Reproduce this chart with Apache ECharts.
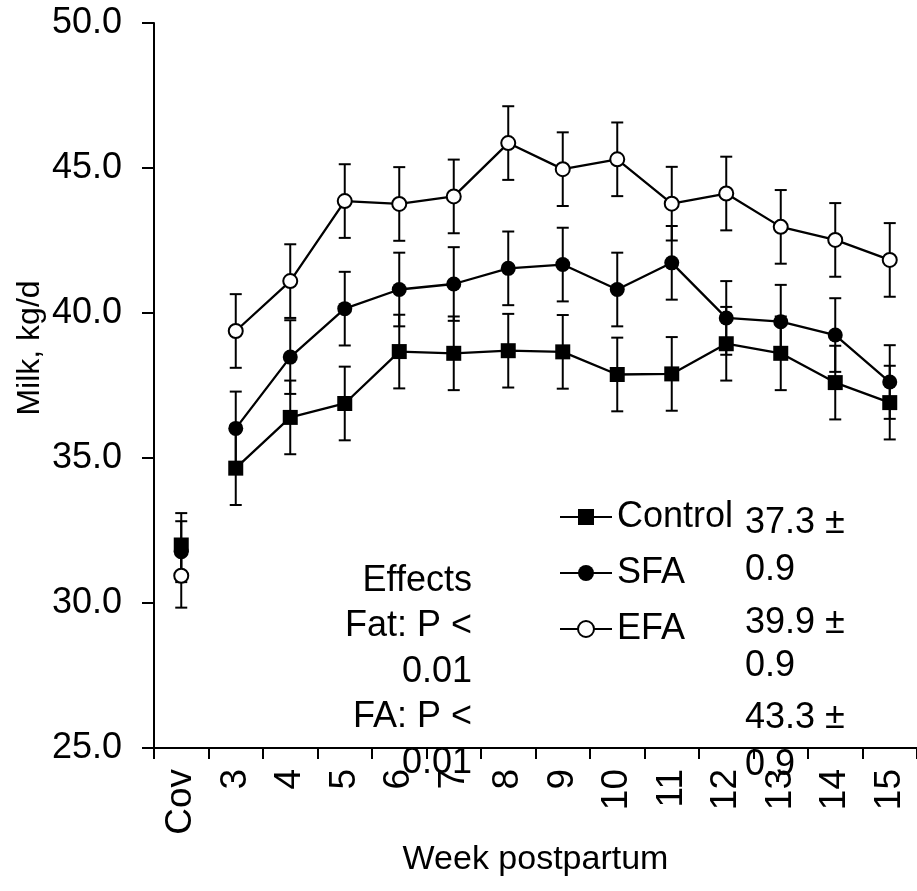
<!DOCTYPE html>
<html><head><meta charset="utf-8">
<script src="https://cdn.jsdelivr.net/npm/echarts@6/dist/echarts.min.js"></script>
<style>html,body{margin:0;padding:0;background:#fff}#c{width:917px;height:891px}</style>
</head><body><div id="c"></div>
<script>
// ---- data ----
const categories = ['Cov','3','4','5','6','7','8','9','10','11','12','13','14','15'];
const seriesNames = ['Control','SFA','EFA'];
const controlCov = 32.00, sfaCov = 31.77, efaCov = 30.94;
const controlWeeks = [34.65,36.40,36.88,38.67,38.61,38.70,38.66,37.88,37.90,38.94,38.61,37.60,36.91];
const sfaWeeks     = [36.02,38.48,40.15,40.81,41.00,41.54,41.67,40.81,41.73,39.83,39.70,39.24,37.62];
const efaWeeks     = [39.38,41.10,43.86,43.76,44.02,45.86,44.96,45.30,43.77,44.12,42.97,42.52,41.83];
const controlSE = [1.10,1.27,1.27,1.27,1.27,1.27,1.27,1.27,1.27,1.27,1.27,1.27,1.27,1.27];
const sfaSE     = [1.05,1.27,1.27,1.27,1.27,1.27,1.27,1.27,1.27,1.27,1.27,1.27,1.27,1.27];
const efaSE     = [1.10,1.27,1.27,1.27,1.27,1.27,1.27,1.27,1.27,1.27,1.27,1.27,1.27,1.27];
const yMin = 25, yMax = 50, yStep = 5;
const xTitle = 'Week postpartum';
const yTitle = 'Milk, kg/d';
const effectsLines = ['Effects','Fat: P <','0.01','FA: P <','0.01'];
const meansLines = ['37.3 \u00b1','0.9','39.9 \u00b1','0.9','43.3 \u00b1','0.9'];

// ---- layout / style ----
const F = '"Liberation Sans", Arial, Helvetica, sans-serif';
const FS = 36;
const grid = {left:154, top:23, width:765, height:725};
const meansMid = [523, 570, 623, 666, 718, 765];
const effMid0 = 581, effStep = 45.5;

function errRender(params, api){
  const x = api.value(0), lo = api.value(1), hi = api.value(2);
  const a = api.coord([x, lo]), b = api.coord([x, hi]);
  const w = 6, st = {stroke:'#000', lineWidth:2};
  return {type:'group', children:[
    {type:'line', shape:{x1:a[0],y1:a[1],x2:b[0],y2:b[1]}, style:st},
    {type:'line', shape:{x1:a[0]-w,y1:a[1],x2:a[0]+w,y2:a[1]}, style:st},
    {type:'line', shape:{x1:b[0]-w,y1:b[1],x2:b[0]+w,y2:b[1]}, style:st}
  ]};
}

const groups = [
  {name:'Control', cov:controlCov, wk:controlWeeks, se:controlSE, symbol:'rect', fill:'#000', size:15},
  {name:'SFA', cov:sfaCov, wk:sfaWeeks, se:sfaSE, symbol:'circle', fill:'#000', size:15},
  {name:'EFA', cov:efaCov, wk:efaWeeks, se:efaSE, symbol:'circle', fill:'#fff', size:14}
];

const series = [];
groups.forEach(g => {
  const vals = [g.cov].concat(g.wk);
  series.push({
    type:'custom', name:g.name+' SE', renderItem:errRender, z:1, silent:true,
    data: vals.map((v,i) => [i, v - g.se[i], v + g.se[i]])
  });
});
groups.forEach(g => {
  const sym = {
    symbol:g.symbol, symbolSize:g.size,
    itemStyle:{color:g.fill, borderColor:'#000', borderWidth: g.fill === '#fff' ? 2 : 0, opacity:1}
  };
  series.push(Object.assign({
    type:'line', name:g.name, z:3, data:['-'].concat(g.wk),
    showSymbol:true, showAllSymbol:true, lineStyle:{color:'#000', width:2.3},
    emphasis:{disabled:true}
  }, sym));
  series.push(Object.assign({
    type:'scatter', name:g.name+' Cov', z:3, data:[[0, g.cov]], emphasis:{disabled:true}
  }, sym));
});

const graphics = [];
graphics.push({type:'text', x:30, y:348, rotation:Math.PI/2,
  style:{text:yTitle, font:'32px '+F, fill:'#000', align:'center', verticalAlign:'middle'}});
effectsLines.forEach((t,i) => graphics.push({type:'text', x:472, y:effMid0 + i*effStep, z:10,
  style:{text:t, font:FS+'px '+F, fill:'#000', align:'right', verticalAlign:'middle'}}));
meansLines.forEach((t,i) => graphics.push({type:'text', x:745, y:meansMid[i], z:10,
  style:{text:t, font:FS+'px '+F, fill:'#000', align:'left', verticalAlign:'middle'}}));

const chart = echarts.init(document.getElementById('c'), null, {renderer:'canvas'});
chart.setOption({
  animation:false,
  backgroundColor:'#fff',
  grid: grid,
  legend:{data:seriesNames, orient:'vertical', left:559, top:499, itemWidth:52, itemHeight:20,
    itemGap:20, padding:0, selectedMode:false,
    textStyle:{fontSize:FS, color:'#000', fontFamily:F}},
  xAxis:{type:'category', data:categories, boundaryGap:true,
    name:xTitle, nameLocation:'middle', nameGap:95,
    nameTextStyle:{fontSize:34, color:'#000', fontFamily:F},
    axisLine:{show:true, lineStyle:{color:'#000', width:2}},
    axisTick:{show:true, inside:false, length:11, interval:0, alignWithLabel:false, lineStyle:{color:'#000', width:2}},
    axisLabel:{rotate:90, interval:0, margin:21, fontSize:37, color:'#000', fontFamily:F},
    splitLine:{show:false}},
  yAxis:{type:'value', min:yMin, max:yMax, interval:yStep,
    axisLine:{show:true, lineStyle:{color:'#000', width:2}},
    axisTick:{show:true, inside:false, length:12, lineStyle:{color:'#000', width:2}},
    axisLabel:{margin:32, fontSize:FS, color:'#000', fontFamily:F, formatter:v => v.toFixed(1)},
    splitLine:{show:false}},
  graphic: graphics,
  series: series
});
</script></body></html>
